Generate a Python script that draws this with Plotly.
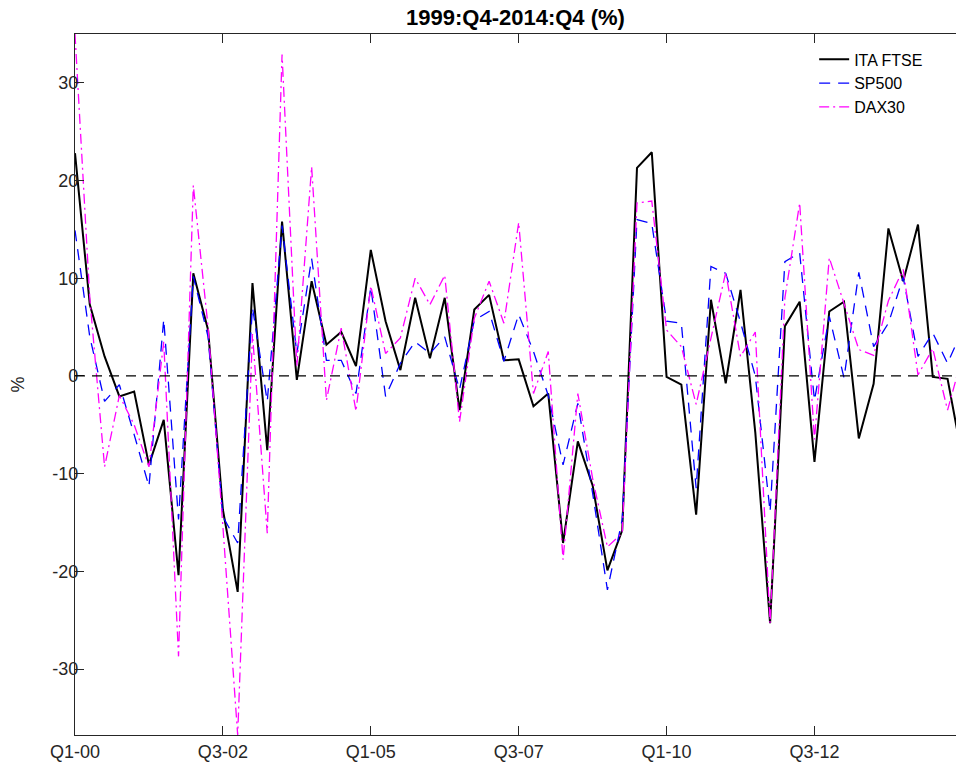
import plotly.graph_objects as go

# Quarterly returns (%), Q1-00 ... Q1-15 (61 quarters)
ita_ftse = [22.8, 7.3, 2.0, -2.1, -1.6, -9.1, -4.5, -20.4, 10.5, 4.7,
            -13.7, -22.1, 9.5, -7.6, 15.8, -0.4, 9.7, 3.2, 4.5, 1.0,
            12.9, 5.6, 0.6, 8.0, 1.8, 8.0, -3.5, 6.8, 8.3, 1.6,
            1.7, -3.1, -1.8, -17.1, -6.7, -11.2, -19.9, -15.8, 21.3, 22.9,
            -0.1, -0.9, -14.2, 7.8, -0.75, 8.8, -5.8, -25.3, 5.1, 7.6,
            -8.8, 6.6, 7.6, -6.4, -0.8, 15.1, 9.7, 15.5, -0.1, -0.3,
            -8.4]
sp500 = [14.9, 4.0, -2.6, -0.9, -6.0, -11.3, 5.8, -14.7, 10.2, 4.0,
         -14.4, -17.1, 7.0, -2.6, 15.4, 2.3, 12.0, 1.6, 1.6, -1.8,
         9.1, -2.1, 1.3, 3.5, 2.3, 4.0, -1.4, 5.7, 6.6, 1.5,
         6.3, 2.5, -2.0, -9.1, -2.8, -12.0, -21.9, -14.7, 16.0, 15.6,
         5.6, 5.4, -11.5, 11.2, 10.5, 5.5, 0.0, -13.9, 11.7, 12.6,
         -2.5, 6.1, -0.2, 10.6, 3.0, 5.4, 10.1, 2.0, 4.4, 1.3,
         4.7]
dax30 = [35.0, 8.0, -9.3, -2.0, -5.0, -9.3, 3.5, -28.7, 19.5, 5.0,
         -15.4, -36.75, 4.3, -16.1, 32.9, 1.0, 21.4, -2.5, 4.9, -3.6,
         9.2, 2.3, 3.9, 10.0, 7.3, 10.3, -4.7, 5.9, 9.7, 5.4,
         15.7, -1.8, 2.5, -18.8, -1.8, -10.5, -17.5, -16.1, 17.7, 17.9,
         4.7, 3.0, -2.9, 4.0, 10.6, 2.0, 4.5, -25.3, 8.0, 17.7,
         -6.5, 12.1, 7.4, 2.7, 2.1, 7.7, 10.9, 0.1, 2.8, -3.5,
         2.0]

tick_labels = ["Q1-00", "Q3-02", "Q1-05", "Q3-07", "Q1-10", "Q3-12"]
tick_step = 10
y_ticks = [-30, -20, -10, 0, 10, 20, 30]
y_tick_text = ["-30", "-20", "-10", "0", "10", "20", "30"]

x = list(range(len(ita_ftse)))
tick_vals = [i * tick_step for i in range(len(tick_labels))]

FONT = "Liberation Sans, Arial, Helvetica, sans-serif"
AX = "#262626"

fig = go.Figure()
fig.add_trace(go.Scatter(x=x, y=ita_ftse, mode="lines", name="ITA FTSE",
                         line=dict(color="black", width=2.0)))
fig.add_trace(go.Scatter(x=x, y=sp500, mode="lines", name="SP500",
                         line=dict(color="blue", width=1.3, dash="11px,8px")))
fig.add_trace(go.Scatter(x=x, y=dax30, mode="lines", name="DAX30",
                         line=dict(color="magenta", width=1.3, dash="10px,4px,2px,4px")))

fig.add_hline(y=0, line=dict(color="black", width=1.3, dash="10px,7px"))

ymin = min(min(ita_ftse), min(sp500), min(dax30))
ymax = max(max(ita_ftse), max(sp500), max(dax30))

fig.update_layout(
    width=956, height=771,
    margin=dict(l=75, r=0, t=34, b=36, autoexpand=False),
    paper_bgcolor="white", plot_bgcolor="white",
    font=dict(family=FONT, size=18, color=AX),
    title=dict(text="<b>1999:Q4-2014:Q4 (%)</b>", x=0.5, xref="paper",
               y=1 - 17 / 771, yref="container", yanchor="middle", xanchor="center",
               font=dict(family=FONT, size=22, color="black")),
    showlegend=True,
    legend=dict(x=0.839, y=0.988, xanchor="left", yanchor="top",
                bgcolor="rgba(0,0,0,0)", borderwidth=0,
                font=dict(family=FONT, size=16, color="black"),
                tracegroupgap=0),
    xaxis=dict(range=[0, 59.57], tickmode="array", tickvals=tick_vals,
               ticktext=tick_labels, ticks="inside", ticklen=9, tickwidth=1.3,
               tickcolor=AX, showline=True, linecolor=AX, linewidth=1.3,
               mirror="ticks", showgrid=False, zeroline=False, automargin=False,
               tickfont=dict(size=18, color=AX)),
    yaxis=dict(range=[ymin, ymax], tickmode="array", tickvals=y_ticks,
               ticktext=y_tick_text,
               ticks="inside", ticklen=9, tickwidth=1.3, tickcolor=AX,
               showline=True, linecolor=AX, linewidth=1.3, mirror=False,
               showgrid=False, zeroline=False, automargin=False,
               ticklabelstandoff=-8,
               title=dict(text="%", standoff=22, font=dict(size=18, color=AX)),
               tickfont=dict(size=18, color=AX)),
)

fig.write_html(
    "out.html",
    config={"displayModeBar": False},
    post_script="document.body.style.margin='0';document.body.style.overflow='hidden';",
)
